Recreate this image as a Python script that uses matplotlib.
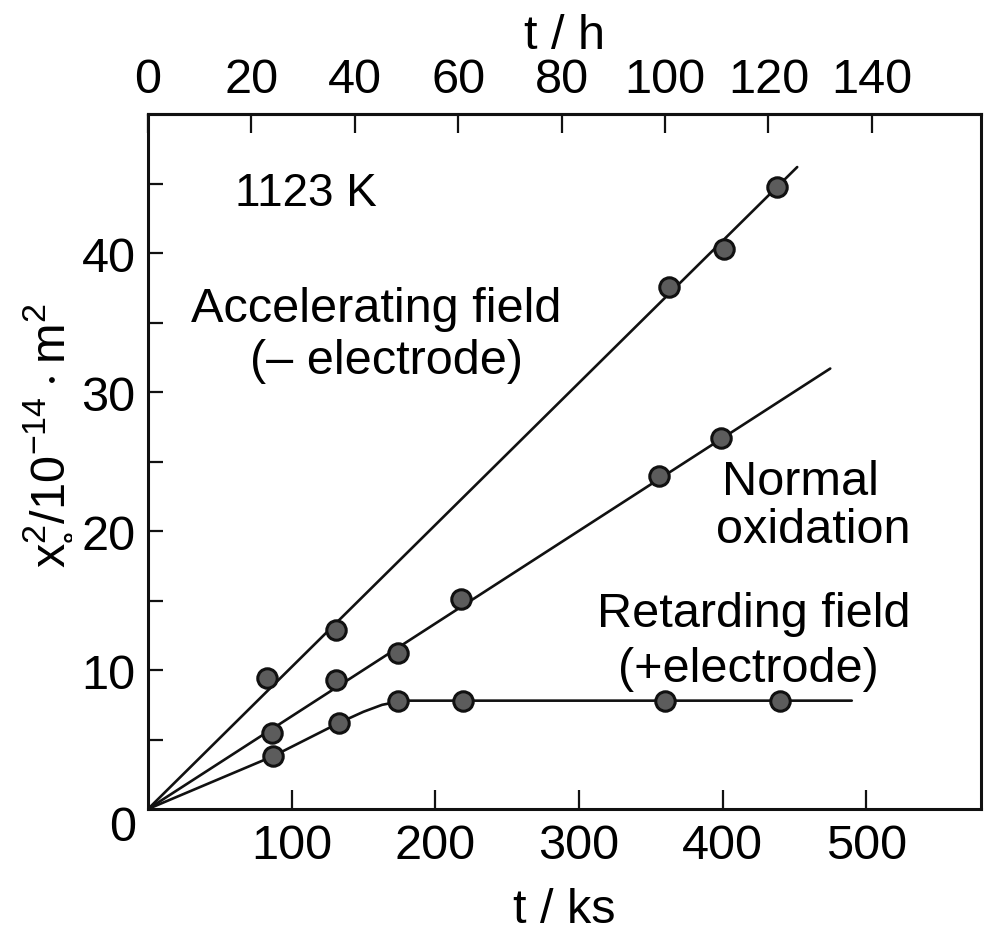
"""Parabolic oxidation at 1123 K: x0^2 vs time under applied fields."""
import matplotlib; matplotlib.use("Agg")
import matplotlib.pyplot as plt

# accelerating field (- electrode)
acc_t = [83, 131, 363, 401, 438]
acc_x2 = [9.4, 12.9, 37.6, 40.3, 44.8]
acc_fit_t = [0, 452]
acc_fit_x2 = [0, 46.2]
# normal oxidation
norm_t = [86, 131, 174, 218, 356, 399]
norm_x2 = [5.5, 9.3, 11.2, 15.1, 24.0, 26.7]
norm_fit_t = [0, 475]
norm_fit_x2 = [0, 31.7]
# retarding field (+ electrode)
ret_t = [87, 133, 174, 219, 360, 440]
ret_x2 = [3.8, 6.2, 7.8, 7.8, 7.8, 7.8]
ret_fit_t = [0, 87, 133, 150, 163, 178, 490]
ret_fit_x2 = [0, 3.8, 6.2, 7.0, 7.5, 7.8, 7.8]

ks_ticks = [100, 200, 300, 400, 500]
h_ticks = [0, 20, 40, 60, 80, 100, 120, 140]
y_ticks = [5, 10, 15, 20, 25, 30, 35, 40, 45]
y_labels = ['', '10', '', '20', '', '30', '', '40', '']

plt.rcParams.update({'font.family': ['Liberation Sans', 'DejaVu Sans'],
                     'mathtext.fontset': 'custom', 'mathtext.rm': 'Liberation Sans'})
INK = '#111111'

fig = plt.figure(figsize=(9.84, 9.37), dpi=100)
ax = fig.add_axes([0.1504, 0.1355, 0.8466, 0.7415])

for t, y in [(acc_fit_t, acc_fit_x2), (norm_fit_t, norm_fit_x2), (ret_fit_t, ret_fit_x2)]:
    ax.plot(t, y, color=INK, lw=1.9, solid_capstyle='round', zorder=2)
for t, y in [(acc_t, acc_x2), (norm_t, norm_x2), (ret_t, ret_x2)]:
    ax.plot(t, y, 'o', ms=14, mfc='#5c5c5c', mec=INK, mew=2.2, zorder=3)

ax.set_xlim(0, 580); ax.set_ylim(0, 50)
for s in ax.spines.values(): s.set_linewidth(2.2); s.set_color(INK)

ax.set_xticks(ks_ticks)
ax.set_xticklabels([str(v) for v in ks_ticks], fontsize=35)
ax.set_yticks(y_ticks)
ax.set_yticklabels(y_labels, fontsize=35)
ax.tick_params(axis='x', direction='in', length=14, width=1.6, pad=10, color=INK)
ax.tick_params(axis='y', direction='in', length=11, width=1.6, pad=9, color=INK)
ax.annotate('0', (0, 0), xytext=(-18, -13), textcoords='offset points',
            ha='center', va='center', fontsize=35, annotation_clip=False)

top = ax.secondary_xaxis('top', functions=(lambda t: t / 3.6, lambda h: h * 3.6))
top.set_xticks(h_ticks)
top.set_xticklabels([str(v) for v in h_ticks], fontsize=35)
top.tick_params(direction='in', length=14, width=1.6, pad=9, color=INK)
top.spines['top'].set_linewidth(2.2)
top.set_xlabel('t / h', fontsize=35, labelpad=6)

ax.set_xlabel('t / ks', fontsize=35, labelpad=14)
fig.text(46 / 984, 1 - 435 / 937, r'$\mathregular{x_{\circ}^{2}/10^{-14}\cdot m^{2}}$',
         rotation=90, ha='center', va='center', fontsize=35)

ax.text(110, 44.3, '1123 K', ha='center', va='center', fontsize=33)
ax.text(159, 36.0, 'Accelerating field', ha='center', va='center', fontsize=35)
ax.text(166, 32.3, '(– electrode)', ha='center', va='center', fontsize=35)
ax.text(454, 23.6, 'Normal', ha='center', va='center', fontsize=35)
ax.text(463, 20.1, 'oxidation', ha='center', va='center', fontsize=35)
ax.text(422, 14.1, 'Retarding field', ha='center', va='center', fontsize=35)
ax.text(418, 10.1, '(+electrode)', ha='center', va='center', fontsize=35)

plt.savefig('out.png', dpi=100)
print('saved out.png')
